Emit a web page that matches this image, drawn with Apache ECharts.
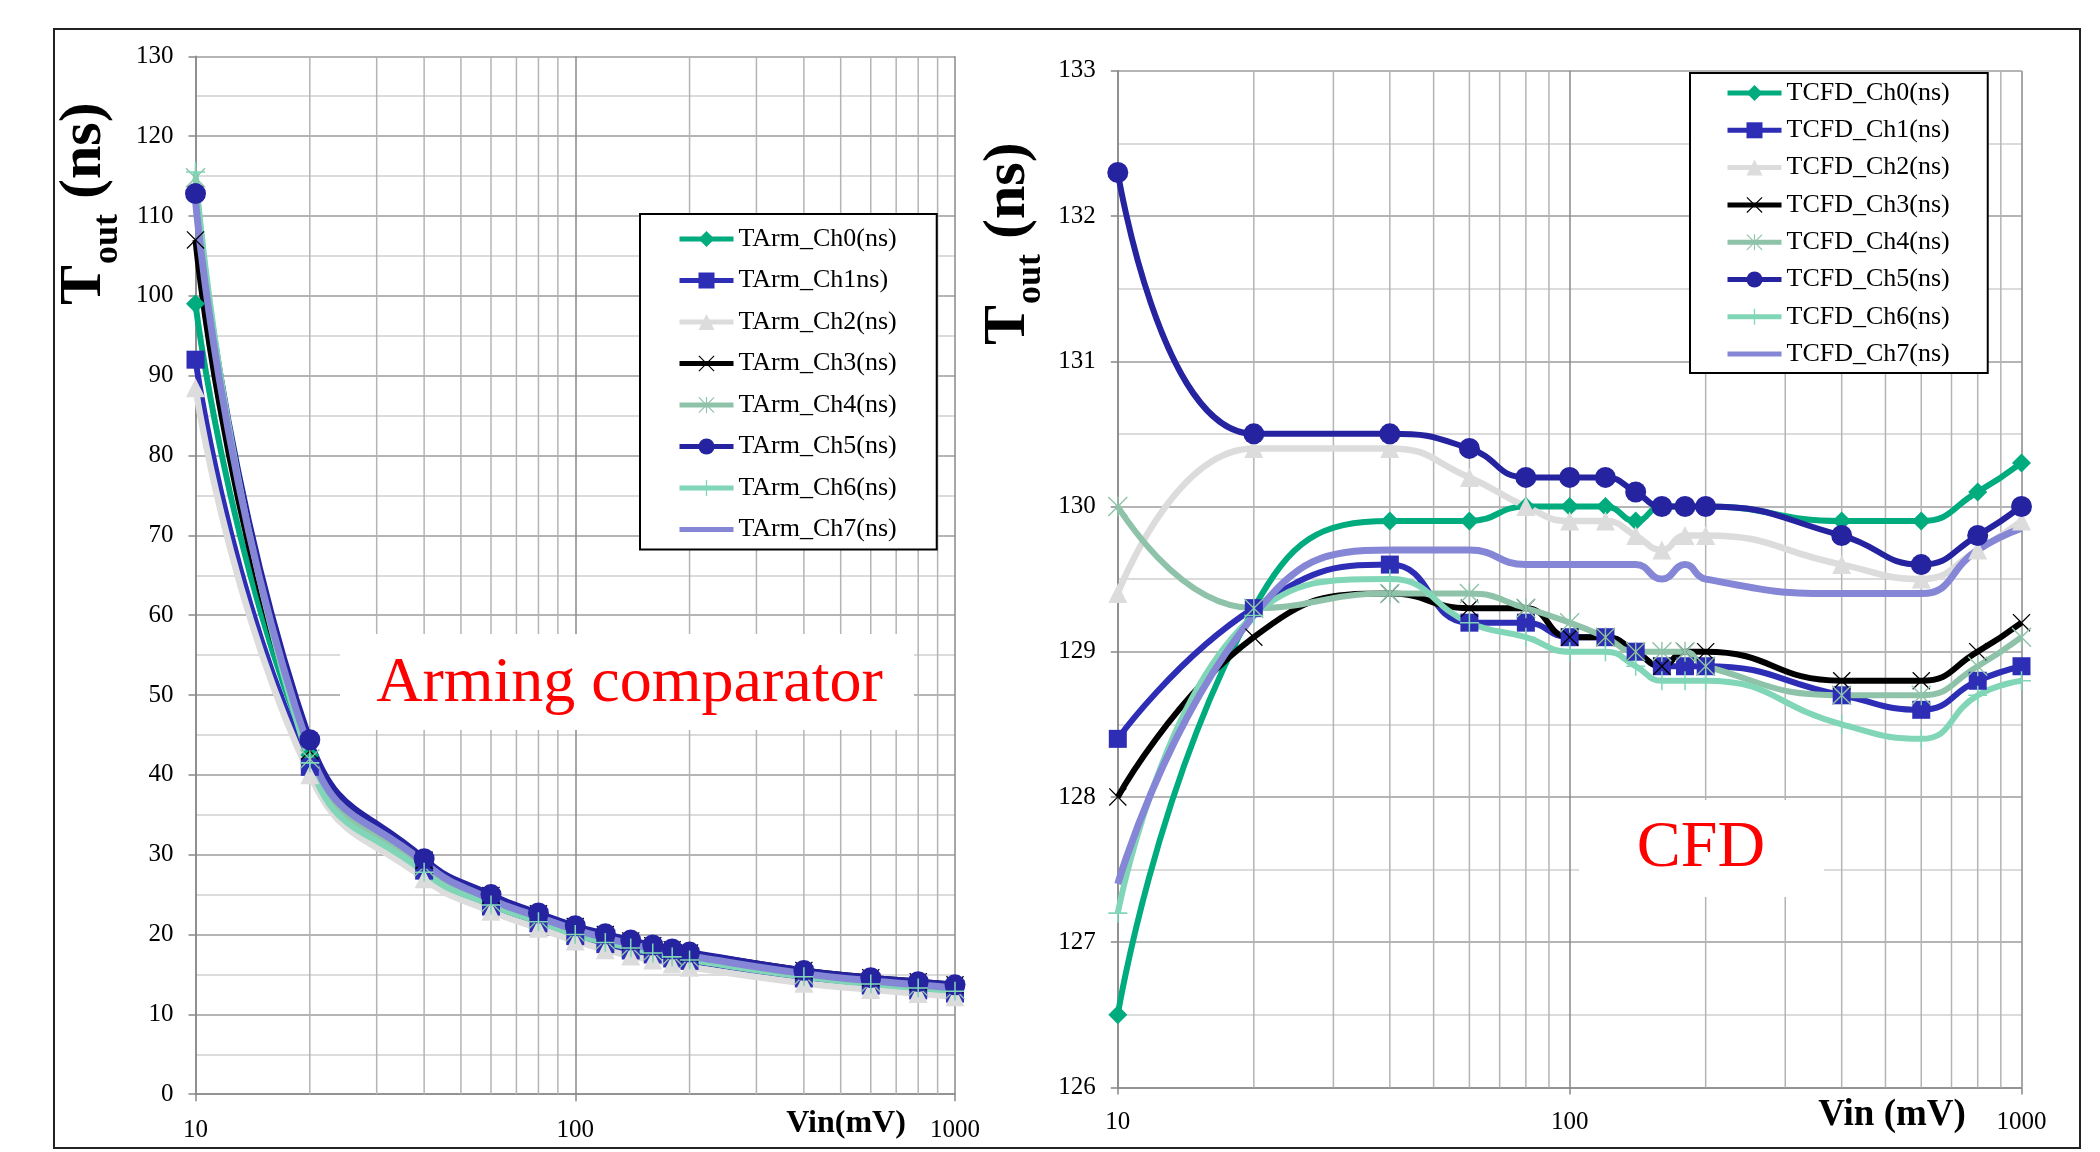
<!DOCTYPE html>
<html>
<head>
<meta charset="utf-8">
<script src="https://cdn.jsdelivr.net/npm/echarts@6/dist/echarts.min.js"></script>
<style>
html, body { margin: 0; padding: 0; background: #fff; }
#chart { width: 2100px; height: 1152px; }
</style>
</head>
<body>
<div id="chart"></div>
<script>
// input amplitude (mV), same for both panels
const vin = [10, 20, 40, 60, 80, 100, 120, 140, 160, 180, 200, 400, 600, 800, 1000];
// minor log grid lines
const minorVin = [20, 30, 40, 50, 60, 70, 80, 90, 200, 300, 400, 500, 600, 700, 800, 900];

const armNames = ['TArm_Ch0(ns)', 'TArm_Ch1ns)', 'TArm_Ch2(ns)', 'TArm_Ch3(ns)',
  'TArm_Ch4(ns)', 'TArm_Ch5(ns)', 'TArm_Ch6(ns)', 'TArm_Ch7(ns)'];
const cfdNames = ['TCFD_Ch0(ns)', 'TCFD_Ch1(ns)', 'TCFD_Ch2(ns)', 'TCFD_Ch3(ns)',
  'TCFD_Ch4(ns)', 'TCFD_Ch5(ns)', 'TCFD_Ch6(ns)', 'TCFD_Ch7(ns)'];

// arming comparator output time (ns)
const armCh0 = [99.0, 42.5, 28.3, 23.9, 21.8, 20.2, 19.2, 18.4, 17.9, 17.4, 17.0, 14.9, 14.0, 13.5, 13.1];
const armCh1 = [92.0, 41.0, 28.0, 23.5, 21.4, 19.8, 18.8, 18.0, 17.5, 17.0, 16.7, 14.5, 13.6, 13.0, 12.6];
const armCh2 = [88.5, 40.0, 27.0, 22.9, 20.8, 19.2, 18.1, 17.3, 16.8, 16.3, 15.9, 13.9, 13.1, 12.6, 12.2];
const armCh3 = [107.0, 43.0, 29.3, 24.9, 22.6, 21.0, 20.0, 19.2, 18.6, 18.1, 17.7, 15.5, 14.6, 14.1, 13.7];
const armCh4 = [114.8, 42.0, 28.5, 24.0, 21.9, 20.3, 19.3, 18.5, 17.9, 17.4, 17.1, 14.9, 14.0, 13.5, 13.1];
const armCh5 = [112.8, 44.4, 29.5, 25.0, 22.7, 21.1, 20.1, 19.3, 18.7, 18.2, 17.8, 15.5, 14.6, 14.1, 13.7];
const armCh6 = [115.5, 41.5, 27.8, 23.7, 21.6, 20.0, 19.0, 18.3, 17.7, 17.2, 16.8, 14.7, 13.8, 13.3, 12.9];
const armCh7 = [112.0, 43.0, 29.0, 24.4, 22.2, 20.6, 19.6, 18.8, 18.2, 17.7, 17.3, 15.1, 14.2, 13.7, 13.3];

// CFD output time (ns)
const cfdCh0 = [126.5, 129.3, 129.9, 129.9, 130.0, 130.0, 130.0, 129.9, 130.0, 130.0, 130.0, 129.9, 129.9, 130.1, 130.3];
const cfdCh1 = [128.4, 129.3, 129.6, 129.2, 129.2, 129.1, 129.1, 129.0, 128.9, 128.9, 128.9, 128.7, 128.6, 128.8, 128.9];
const cfdCh2 = [129.4, 130.4, 130.4, 130.2, 130.0, 129.9, 129.9, 129.8, 129.7, 129.8, 129.8, 129.6, 129.5, 129.7, 129.9];
const cfdCh3 = [128.0, 129.1, 129.4, 129.3, 129.3, 129.1, 129.1, 129.0, 128.9, 129.0, 129.0, 128.8, 128.8, 129.0, 129.2];
const cfdCh4 = [130.0, 129.3, 129.4, 129.4, 129.3, 129.2, 129.1, 129.0, 129.0, 129.0, 128.9, 128.7, 128.7, 128.9, 129.1];
const cfdCh5 = [132.3, 130.5, 130.5, 130.4, 130.2, 130.2, 130.2, 130.1, 130.0, 130.0, 130.0, 129.8, 129.6, 129.8, 130.0];
const cfdCh6 = [127.2, 129.25, 129.5, 129.2, 129.1, 129.0, 129.0, 128.9, 128.8, 128.8, 128.8, 128.5, 128.4, 128.7, 128.8];
const cfdCh7 = [127.4, 129.25, 129.7, 129.7, 129.6, 129.6, 129.6, 129.6, 129.5, 129.6, 129.5, 129.4, 129.4, 129.7, 129.85];

const armData = [armCh0, armCh1, armCh2, armCh3, armCh4, armCh5, armCh6, armCh7];
const cfdData = [cfdCh0, cfdCh1, cfdCh2, cfdCh3, cfdCh4, cfdCh5, cfdCh6, cfdCh7];

// marker shapes, like the excel ones
const xPath = 'path://M1,0L10,9L19,0L20,1L11,10L20,19L19,20L10,11L1,20L0,19L9,10L0,1Z';
const starPath = 'path://M1,0L10,9L19,0L20,1L11,10L20,19L19,20L10,11L1,20L0,19L9,10L0,1Z M9.3,0L10.7,0L10.7,20L9.3,20Z';
const plusPath = 'path://M9.2,0H10.8V9.2H20V10.8H10.8V20H9.2V10.8H0V9.2H9.2Z';

const colors = ['#00ab7e', '#2d2db6', '#dcdcdc', '#000000', '#8fc3a9', '#25239f', '#80d6b7', '#8686d6'];
const symbols = ['diamond', 'rect', 'triangle', xPath, starPath, 'circle', plusPath, 'none'];
const symSizes = [19, 18, 19, 18, 20, 21, 19, 0];
const lineWidths = [6, 6, 6.5, 6, 6, 6, 6, 7];

const serif = 'Liberation Serif';

function makeSeries(names, data, gi) {
  return data.map(function (vals, i) {
    return {
      name: names[i],
      type: 'line',
      xAxisIndex: gi,
      yAxisIndex: gi,
      data: vin.map(function (x, k) { return [x, vals[k]]; }),
      smooth: 0.5,
      symbol: symbols[i],
      symbolSize: symSizes[i],
      showSymbol: true,
      showAllSymbol: true,
      lineStyle: { color: colors[i], width: lineWidths[i] },
      itemStyle: { color: colors[i] },
      emphasis: { disabled: true },
      z: 2
    };
  });
}

// vertical 2..9 grid lines on the log axis
function minorLines(gi, yBase) {
  return {
    type: 'custom',
    xAxisIndex: gi,
    yAxisIndex: gi,
    silent: true,
    z: 0.5,
    data: minorVin.map(function (v) { return [v, yBase]; }),
    renderItem: function (params, api) {
      const cs = params.coordSys;
      const x = api.coord([api.value(0), api.value(1)])[0];
      return {
        type: 'line',
        shape: { x1: x, y1: cs.y, x2: x, y2: cs.y + cs.height },
        style: { stroke: '#b4b4b4', lineWidth: 1.5 }
      };
    }
  };
}

function xAxisOpt(gi, margin) {
  return {
    type: 'log', logBase: 10, min: 10, max: 1000, gridIndex: gi,
    axisLine: { show: true, lineStyle: { color: '#888', width: 1.5 } },
    axisTick: { show: true, length: 7, lineStyle: { color: '#888', width: 1.5 } },
    axisLabel: { color: '#000', fontFamily: serif, fontSize: 25, margin: margin,
      formatter: function (v) { return String(Math.round(v)); } },
    splitLine: { show: true, lineStyle: { color: '#8a8a8a', width: 1.5 } }
  };
}

function yAxisOpt(gi, min, max, step) {
  return {
    type: 'value', min: min, max: max, interval: step, gridIndex: gi,
    axisLine: { show: true, lineStyle: { color: '#888', width: 1.5 } },
    axisTick: { show: true, length: 7, lineStyle: { color: '#888', width: 1.5 } },
    axisLabel: { color: '#000', fontFamily: serif, fontSize: 25, margin: 22 },
    splitLine: { show: true, lineStyle: { color: '#9c9c9c', width: 1.5 } },
    minorTick: { show: false, splitNumber: 2 },
    minorSplitLine: { show: true, lineStyle: { color: '#cfcfcf', width: 1.5 } }
  };
}

function legendOpt(names, left, top, padding, gap) {
  return {
    // last channel has no marker in the reference legend
    data: names.map(function (n, i) {
      return i === 7 ? { name: n, itemStyle: { opacity: 0 } } : n;
    }),
    orient: 'vertical',
    left: left,
    top: top,
    padding: padding,
    itemGap: gap,
    itemWidth: 54,
    itemHeight: 20,
    selectedMode: false,
    backgroundColor: '#fff',
    borderColor: '#000',
    borderWidth: 2,
    borderRadius: 0,
    lineStyle: { width: 5 },
    textStyle: { color: '#000', fontFamily: serif, fontSize: 26, lineHeight: 30 }
  };
}

function yTitle(cx, startY) {
  // rotated "T_out (ns)"
  return {
    type: 'group', x: cx, y: startY, rotation: Math.PI / 2, z: 5,
    children: [
      { type: 'text', x: 0, y: 0, style: { text: 'T', fontFamily: serif, fontWeight: 'bold', fontSize: 60,
        fill: '#000', align: 'left', verticalAlign: 'middle' } },
      { type: 'text', x: 41, y: 23, style: { text: 'out', fontFamily: serif, fontWeight: 'bold', fontSize: 36,
        fill: '#000', align: 'left', verticalAlign: 'middle' } },
      { type: 'text', x: 106, y: 0, style: { text: '(ns)', fontFamily: serif, fontWeight: 'bold', fontSize: 60,
        fill: '#000', align: 'left', verticalAlign: 'middle' } }
    ]
  };
}

const chart = echarts.init(document.getElementById('chart'));

const option = {
  animation: false,
  backgroundColor: '#fff',
  textStyle: { fontFamily: serif },
  grid: [
    { left: 195.5, right: 1145, top: 56.3, bottom: 57.8 },
    { left: 1117.8, right: 78.5, top: 70.8, bottom: 64.6 }
  ],
  xAxis: [xAxisOpt(0, 24), xAxisOpt(1, 23)],
  yAxis: [yAxisOpt(0, 0, 130, 10), yAxisOpt(1, 126, 133, 1)],
  legend: [
    legendOpt(armNames, 640, 214, [10, 40, 5, 37], 11.5),
    legendOpt(cfdNames, 1690, 73, [5, 38, 4, 35], 7.3)
  ],
  graphic: [
    { type: 'rect', z: 0, shape: { x: 54, y: 29, width: 2026, height: 1119 },
      style: { fill: 'none', stroke: '#222', lineWidth: 2 } },
    { type: 'rect', z: 1, shape: { x: 340, y: 634, width: 574, height: 96 }, style: { fill: '#fff' } },
    { type: 'text', z: 1.1, x: 629.5, y: 684, style: { text: 'Arming comparator', fontFamily: serif,
      fontSize: 64, fill: '#ff0000', align: 'center', verticalAlign: 'middle' } },
    { type: 'rect', z: 1, shape: { x: 1579, y: 800, width: 245, height: 97 }, style: { fill: '#fff' } },
    { type: 'text', z: 1.1, x: 1701, y: 849, style: { text: 'CFD', fontFamily: serif,
      fontSize: 66, fill: '#ff0000', align: 'center', verticalAlign: 'middle' } },
    { type: 'text', z: 5, x: 846, y: 1124, style: { text: 'Vin(mV)', fontFamily: serif, fontWeight: 'bold',
      fontSize: 32, fill: '#000', align: 'center', verticalAlign: 'middle' } },
    { type: 'text', z: 5, x: 1892, y: 1115, style: { text: 'Vin (mV)', fontFamily: serif, fontWeight: 'bold',
      fontSize: 37, fill: '#000', align: 'center', verticalAlign: 'middle' } },
    yTitle(84.5, 305),
    yTitle(1008, 345)
  ],
  series: [minorLines(0, 0), minorLines(1, 126)]
    .concat(makeSeries(armNames, armData, 0))
    .concat(makeSeries(cfdNames, cfdData, 1))
};

chart.setOption(option);
</script>
</body>
</html>
